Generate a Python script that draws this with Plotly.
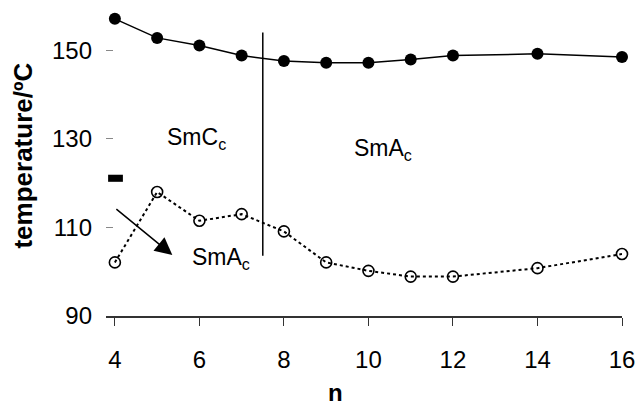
import plotly.graph_objects as go

n_vals = [4, 5, 6, 7, 8, 9, 10, 11, 12, 14, 16]
t_upper = [157.1, 152.8, 151.1, 148.8, 147.6, 147.2, 147.2, 147.9, 148.8, 149.2, 148.5]
t_lower = [102.1, 118.0, 111.5, 113.0, 109.1, 102.1, 100.2, 98.9, 98.9, 100.8, 104.0]
x_ticks = [4, 6, 8, 10, 12, 14, 16]
y_ticks = [90, 110, 130, 150]
boundary_n = 7.5
boundary_t = [103.6, 154.0]

FONT = "Liberation Sans, Arial, sans-serif"

fig = go.Figure()
fig.add_trace(go.Scatter(
    x=n_vals, y=t_lower, mode="lines+markers",
    line=dict(color="black", width=2, dash="dot"),
    marker=dict(symbol="circle-open", size=11, color="black", line=dict(width=1.6, color="black")),
    showlegend=False, cliponaxis=False))
fig.add_trace(go.Scatter(
    x=n_vals, y=t_upper, mode="lines+markers",
    line=dict(color="black", width=1.5),
    marker=dict(symbol="circle", size=12, color="black"),
    showlegend=False, cliponaxis=False))

# phase boundary
fig.add_shape(type="line", x0=boundary_n, x1=boundary_n, y0=boundary_t[0], y1=boundary_t[1],
              line=dict(color="black", width=1.5))
# small black dash
fig.add_shape(type="rect", x0=3.84, x1=4.19, y0=120.3, y1=121.9,
              fillcolor="black", line=dict(width=0))

# arrow
fig.add_annotation(x=5.36, y=103.8, ax=4.0, ay=114.4, xref="x", yref="y", axref="x", ayref="y",
                   text="", showarrow=True, arrowhead=2, arrowsize=2.3, arrowwidth=1.5,
                   arrowcolor="black")

lab_font = dict(family=FONT, size=23, color="black")
fig.add_annotation(x=5.92, y=130.0, text="SmC<sub>c</sub>", showarrow=False, font=lab_font)
fig.add_annotation(x=10.34, y=127.7, text="SmA<sub>c</sub>", showarrow=False, font=lab_font)
fig.add_annotation(x=6.51, y=102.9, text="SmA<sub>c</sub>", showarrow=False, font=lab_font)

# axis titles
fig.add_annotation(xref="paper", yref="paper", x=-0.16, y=0.519, text="<b>temperature/ºC</b>",
                   textangle=-90, showarrow=False, font=dict(family=FONT, size=26, color="black"),
                   xanchor="center", yanchor="middle")
fig.add_annotation(xref="paper", yref="paper", x=0.444, y=-0.248, text="<b>n</b>",
                   showarrow=False, font=dict(family=FONT, size=24, color="black"),
                   xanchor="center", yanchor="middle")

fig.update_layout(
    width=641, height=406,
    margin=dict(l=106, r=15, t=6, b=90),
    paper_bgcolor="white", plot_bgcolor="white",
    font=dict(family=FONT, size=23, color="black"),
    xaxis=dict(range=[3.79, 16], tickvals=x_ticks, showgrid=False, zeroline=False,
               showline=True, linecolor="#333", linewidth=1.5,
               ticks="outside", ticklen=8, tickcolor="#333", tickwidth=1,
               tickfont=dict(family=FONT, size=24, color="black"), ticklabelstandoff=13),
    yaxis=dict(range=[90, 160], tickvals=y_ticks, showgrid=False, zeroline=False,
               showline=False, ticks="inside", ticklen=7, tickcolor="#888", tickwidth=1,
               tickfont=dict(family=FONT, size=24, color="black"), ticklabelstandoff=13),
)

fig.write_html("out.html")
